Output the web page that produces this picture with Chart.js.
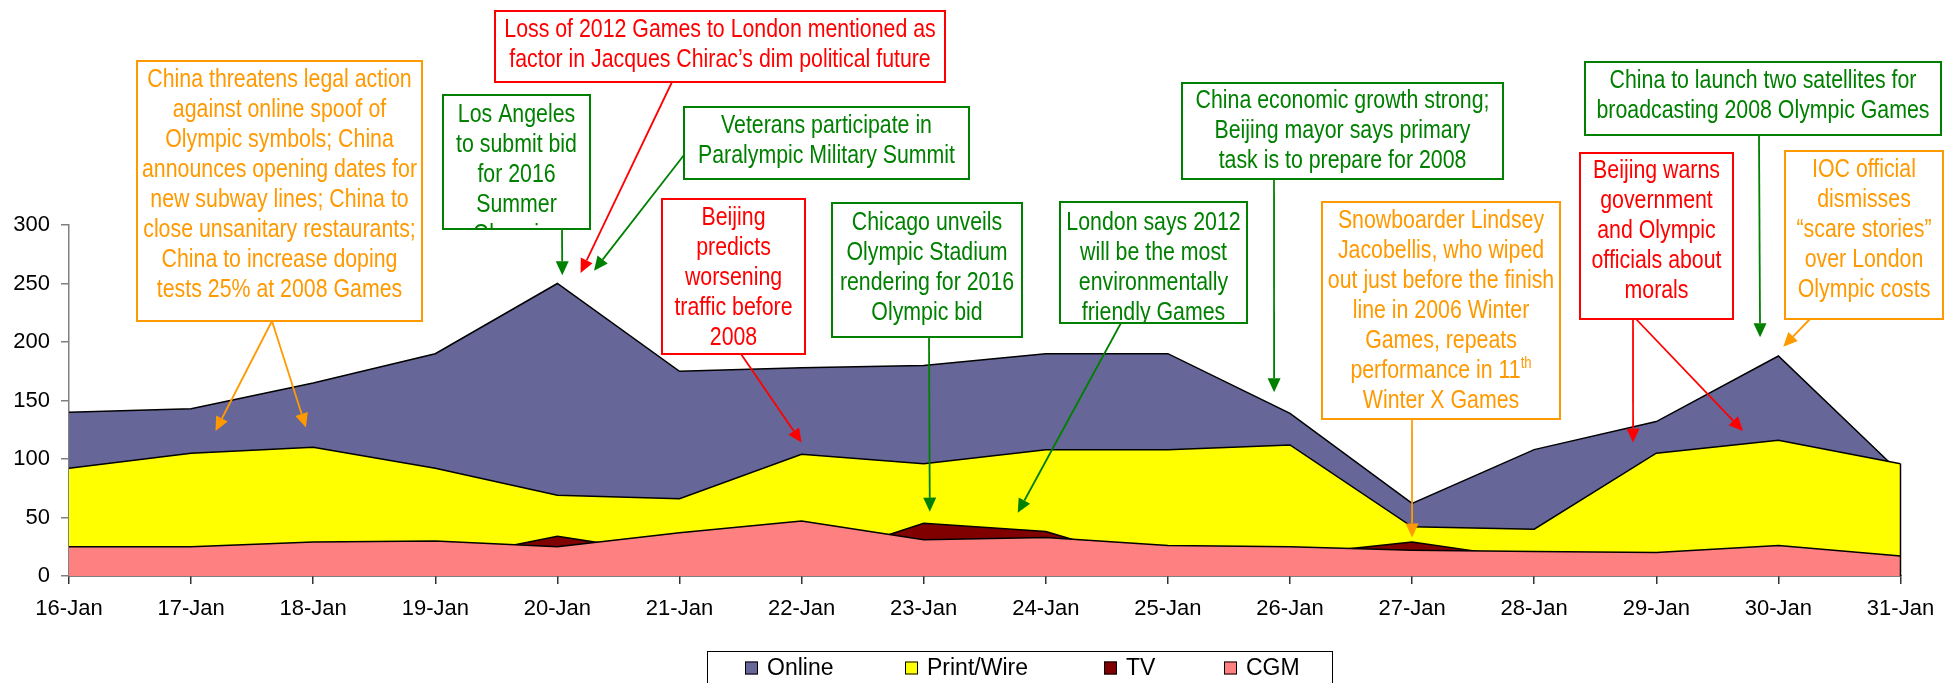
<!DOCTYPE html>
<html>
<head>
<meta charset="utf-8">
<script src="https://cdn.jsdelivr.net/npm/chart.js@4.4.1/dist/chart.umd.min.js"></script>
<style>
  html, body { margin: 0; padding: 0; background: #fff; }
</style>
</head>
<body>
<canvas id="chart" width="1958" height="683"></canvas>
<script>
// media coverage per day, 16-31 Jan (areas overlap, CGM in front)
const days = ['16-Jan', '17-Jan', '18-Jan', '19-Jan', '20-Jan', '21-Jan', '22-Jan', '23-Jan',
              '24-Jan', '25-Jan', '26-Jan', '27-Jan', '28-Jan', '29-Jan', '30-Jan', '31-Jan'];
const online    = [140, 143, 165, 190, 250, 175, 178, 180, 190, 190, 139, 62, 108, 132, 188, 88];
const printWire = [92, 105, 110, 92, 69, 66, 104, 96, 108, 108, 112, 42, 40, 105, 116, 96];
const tv        = [10, 12, 8, 13, 34, 18, 11, 45, 38, 7, 18, 29, 14, 12, 15, 10];
const cgm       = [25, 25, 29, 30, 25, 37, 47, 31, 33, 26, 25, 22, 21, 20, 26, 17];
const yTicks    = [0, 50, 100, 150, 200, 250, 300];

const ORANGE = '#FF9900', RED = '#FF0000', GREEN = '#008000';

// callouts: box in canvas px, arrows point at (day index, value)
const notes = [
  { color: ORANGE, box: [137, 61, 422, 321], base: 87, lines: ['China threatens legal action', 'against online spoof of', 'Olympic symbols; China', 'announces opening dates for', 'new subway lines; China to', 'close unsanitary restaurants;', 'China to increase doping', 'tests 25% at 2008 Games'],
    arrows: [{ from: [272, 321], at: [1.2, 124] }, { from: [272, 321], at: [1.94, 127] }] },
  { color: GREEN, box: [443, 95, 590, 229], base: 122, lines: ['Los Angeles', 'to submit bid', 'for 2016', 'Summer', 'Olympics'],
    arrows: [{ from: [562, 229], at: [4.04, 257] }] },
  { color: RED, box: [495, 11, 945, 82], base: 37, lines: ['Loss of 2012 Games to London mentioned as', 'factor in Jacques Chirac\u2019s dim political future'],
    arrows: [{ from: [672, 82], at: [4.19, 259] }] },
  { color: GREEN, box: [684, 107, 969, 179], base: 133, lines: ['Veterans participate in', 'Paralympic Military Summit'],
    arrows: [{ from: [684, 155], at: [4.3, 261] }] },
  { color: RED, box: [662, 199, 805, 354], base: 225, lines: ['Beijing', 'predicts', 'worsening', 'traffic before', '2008'],
    arrows: [{ from: [741, 354], at: [6.0, 114] }] },
  { color: GREEN, box: [832, 203, 1022, 337], base: 230, lines: ['Chicago unveils', 'Olympic Stadium', 'rendering for 2016', 'Olympic bid'],
    arrows: [{ from: [929, 337], at: [7.05, 55] }] },
  { color: GREEN, box: [1060, 202, 1247, 323], base: 230, lines: ['London says 2012', 'will be the most', 'environmentally', 'friendly Games'],
    arrows: [{ from: [1121, 323], at: [7.77, 54] }] },
  { color: GREEN, box: [1182, 83, 1503, 179], base: 108, lines: ['China economic growth strong;', 'Beijing mayor says primary', 'task is to prepare for 2008'],
    arrows: [{ from: [1274, 179], at: [9.87, 157] }] },
  { color: ORANGE, box: [1322, 202, 1560, 419], base: 228, lines: ['Snowboarder Lindsey', 'Jacobellis, who wiped', 'out just before the finish', 'line in 2006 Winter', 'Games, repeats', 'performance in 11^th', 'Winter X Games'],
    arrows: [{ from: [1412, 419], at: [11.0, 33] }] },
  { color: RED, box: [1580, 153, 1733, 319], base: 178, lines: ['Beijing warns', 'government', 'and Olympic', 'officials about', 'morals'],
    arrows: [{ from: [1633, 319], at: [12.81, 114] }, { from: [1636, 319], at: [13.71, 124] }] },
  { color: GREEN, box: [1585, 62, 1941, 135], base: 88, lines: ['China to launch two satellites for', 'broadcasting 2008 Olympic Games'],
    arrows: [{ from: [1759, 135], at: [13.85, 204] }] },
  { color: ORANGE, box: [1785, 151, 1943, 319], base: 177, lines: ['IOC official', 'dismisses', '\u201Cscare stories\u201D', 'over London', 'Olympic costs'],
    arrows: [{ from: [1810, 319], at: [14.04, 196] }] }
];

// narrow font: use Liberation Sans Narrow if present, otherwise squeeze Liberation Sans
const NARROW = 0.82;
const probe = document.createElement('canvas').getContext('2d');
probe.font = '40px monospace';
const probeBase = probe.measureText('Olympic Games 2008').width;
probe.font = '40px "Liberation Sans Narrow", monospace';
const narrowFace = Math.abs(probe.measureText('Olympic Games 2008').width - probeBase) > 0.5 ? 'Liberation Sans Narrow' : null;

function setNoteFont(ctx, size) {
  ctx.font = narrowFace ? size + 'px "' + narrowFace + '"' : size + 'px "Liberation Sans", Arial, sans-serif';
}
function noteWidth(ctx, str, size) {
  setNoteFont(ctx, size);
  return ctx.measureText(str).width * (narrowFace ? 1 : NARROW);
}
function noteText(ctx, str, x, y, size) {
  setNoteFont(ctx, size);
  ctx.save();
  ctx.translate(x, y);
  if (!narrowFace) ctx.scale(NARROW, 1);
  ctx.textAlign = 'left';
  ctx.textBaseline = 'alphabetic';
  ctx.fillText(str, 0, 0);
  ctx.restore();
}
function arrow(ctx, x1, y1, x2, y2, color) {
  const a = Math.atan2(y2 - y1, x2 - x1), len = 14, half = 6.5;
  const bx = x2 - len * Math.cos(a), by = y2 - len * Math.sin(a);
  ctx.strokeStyle = color;
  ctx.lineWidth = 1.8;
  ctx.beginPath(); ctx.moveTo(x1, y1); ctx.lineTo(bx, by); ctx.stroke();
  ctx.fillStyle = color;
  ctx.beginPath();
  ctx.moveTo(x2, y2);
  ctx.lineTo(bx + half * Math.sin(a), by - half * Math.cos(a));
  ctx.lineTo(bx - half * Math.sin(a), by + half * Math.cos(a));
  ctx.closePath(); ctx.fill();
}

const calloutPlugin = {
  id: 'callouts',
  afterDraw(chart) {
    const ctx = chart.ctx, xs = chart.scales.x, ys = chart.scales.y;
    notes.forEach(n => {
      n.arrows.forEach(ar => {
        arrow(ctx, ar.from[0], ar.from[1], xs.getPixelForValue(ar.at[0]), ys.getPixelForValue(ar.at[1]), n.color);
      });
    });
    notes.forEach(n => {
      const [x1, y1, x2, y2] = n.box;
      ctx.save();
      ctx.fillStyle = '#fff';
      ctx.fillRect(x1, y1, x2 - x1, y2 - y1);
      ctx.beginPath(); ctx.rect(x1, y1, x2 - x1, y2 - y1); ctx.clip();
      ctx.fillStyle = n.color;
      const cx = (x1 + x2) / 2;
      n.lines.forEach((line, k) => {
        const [main, sup] = line.split('^');
        const y = n.base + k * 30;
        const w1 = noteWidth(ctx, main, 26), w2 = sup ? noteWidth(ctx, sup, 16) : 0;
        const x = cx - (w1 + w2) / 2;
        noteText(ctx, main, x, y, 26);
        if (sup) noteText(ctx, sup, x + w1, y - 10, 16);
      });
      ctx.restore();
      ctx.strokeStyle = n.color;
      ctx.lineWidth = 2;
      ctx.strokeRect(x1, y1, x2 - x1, y2 - y1);
    });
  }
};

// right-hand closing edge of the areas
const edgePlugin = {
  id: 'edge',
  afterDatasetsDraw(chart) {
    const ctx = chart.ctx, xs = chart.scales.x, ys = chart.scales.y;
    const last = days.length - 1;
    const top = Math.max(online[last], printWire[last], tv[last], cgm[last]);
    ctx.save();
    ctx.strokeStyle = '#000';
    ctx.lineWidth = 1.5;
    ctx.beginPath();
    ctx.moveTo(xs.getPixelForValue(last), ys.getPixelForValue(top));
    ctx.lineTo(xs.getPixelForValue(last), ys.getPixelForValue(0));
    ctx.stroke();
    ctx.restore();
  }
};

// boxed legend at the bottom
const legendSlots = [745, 905, 1104, 1224];
const legendPlugin = {
  id: 'boxLegend',
  afterDraw(chart) {
    const ctx = chart.ctx;
    ctx.save();
    ctx.strokeStyle = '#000';
    ctx.lineWidth = 1;
    ctx.strokeRect(707.5, 651.5, 625, 60);
    ctx.font = '23px "Liberation Sans", Arial, sans-serif';
    ctx.textBaseline = 'middle';
    ctx.textAlign = 'left';
    chart.data.datasets.forEach((ds, i) => {
      const x = legendSlots[i], cy = 668;
      ctx.fillStyle = ds.backgroundColor;
      ctx.fillRect(x, cy - 6.5, 13, 13);
      ctx.strokeRect(x + 0.5, cy - 6, 12, 12);
      ctx.fillStyle = '#000';
      ctx.fillText(ds.label, x + 22, cy + 1);
    });
    ctx.restore();
  }
};

const tickFont = { family: '"Liberation Sans", Arial, sans-serif', size: 22 };

new Chart(document.getElementById('chart'), {
  type: 'line',
  data: {
    labels: days,
    datasets: [
      { label: 'Online', data: online, backgroundColor: '#666699', order: 3 },
      { label: 'Print/Wire', data: printWire, backgroundColor: '#FFFF00', order: 2 },
      { label: 'TV', data: tv, backgroundColor: '#800000', order: 1 },
      { label: 'CGM', data: cgm, backgroundColor: '#FF8080', order: 0 }
    ].map(d => Object.assign(d, { fill: 'origin', borderColor: '#000', borderWidth: 1.5, pointRadius: 0, tension: 0 }))
  },
  options: {
    responsive: false,
    animation: false,
    layout: { padding: { top: 225, right: 57.5, bottom: 47, left: 0 } },
    plugins: { legend: { display: false }, tooltip: { enabled: false } },
    scales: {
      x: {
        offset: false,
        grid: { drawOnChartArea: false, drawTicks: true, tickLength: 8, color: '#333', lineWidth: 1.5 },
        border: { display: true, color: '#000', width: 1.5 },
        ticks: { color: '#000', font: tickFont, padding: 12, maxRotation: 0, autoSkip: false },
        afterFit: s => { s.height = 60; }
      },
      y: {
        min: 0, max: 300,
        afterBuildTicks: s => { s.ticks = yTicks.map(v => ({ value: v })); },
        grid: { drawOnChartArea: false, drawTicks: true, tickLength: 8, color: '#808080', lineWidth: 1.5 },
        border: { display: true, color: '#808080', width: 1.5 },
        ticks: { color: '#000', font: tickFont, padding: 11 },
        afterFit: s => { s.width = 69; }
      }
    }
  },
  plugins: [edgePlugin, calloutPlugin, legendPlugin]
});
</script>
</body>
</html>
